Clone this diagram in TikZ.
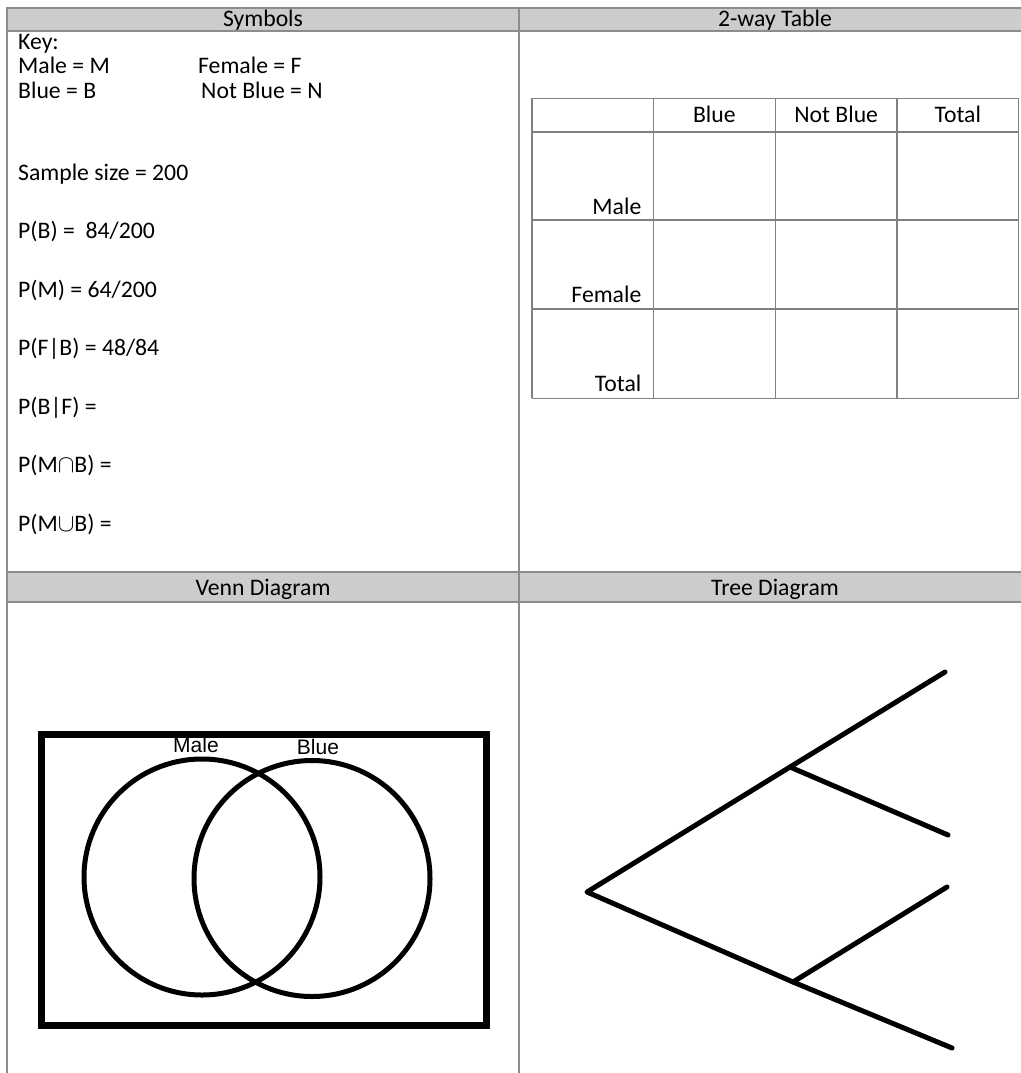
\documentclass[tikz,border=0pt]{standalone}
\usepackage{fontspec}
\setmainfont{Carlito}
\newfontfamily\arialf{Liberation Sans}
\begin{document}
\begin{tikzpicture}[x=1pt,y=-1pt,
  frameline/.style={draw=black!45, line width=2pt},
  band/.style={fill=black!20, draw=black!45, line width=2pt},
  tabline/.style={draw=black!50, line width=1.6pt},
  hdr/.style={font=\fontsize{23.7}{28}\selectfont, inner sep=0pt, anchor=base},
  txt/.style={font=\fontsize{23.7}{28}\selectfont, inner sep=0pt, anchor=base west},
  rlab/.style={font=\fontsize{23.7}{28}\selectfont, inner sep=0pt, anchor=base east},
  vlab/.style={font=\arialf\fontsize{21}{25}\selectfont, inner sep=0pt, anchor=base},
  thick line/.style={line width=5pt, line cap=round, line join=round}
]
\useasboundingbox (0,0) rectangle (1020,1073);
\fill[white] (0,0) rectangle (1020,1073);

% header bands
\path[band] (7,8) rectangle (1032,31);
\path[band] (7,572) rectangle (1032,602);
% frame lines
\draw[frameline] (7,8) -- (7,1073);
\draw[frameline] (519,8) -- (519,1073);

% headers
\node[hdr] (hsym) at (263,27) {Symbols};
\node[hdr] (htab) at (775,27) {2-way Table};
\node[hdr] (hven) at (263,595) {Venn Diagram};
\node[hdr] (htree) at (775,595) {Tree Diagram};

% symbols text
\node[txt] (key) at (18,49) {Key:};
\node[txt] (km) at (18,74) {Male = M};
\node[txt] (kf) at (198,74) {Female = F};
\node[txt] (kb) at (18,98) {Blue = B};
\node[txt] (kn) at (201,98) {Not Blue = N};
\node[txt] (ss) at (18,180) {Sample size = 200};
\node[txt] (pb) at (18,238.5) {P(B) =\ \ 84/200};
\node[txt] (pm) at (18,297) {P(M) = 64/200};
\node[txt] (pfb) at (18,355.5) {P(F|B) = 48/84};
\node[txt] (pbf) at (18,414) {P(B|F) =};
\node[txt] (pmb) at (18,472.5) {P(M$\cap$B) =};
\node[txt] (pub) at (18,531) {P(M$\cup$B) =};

% 2-way table
\foreach \x in {531.7,653.3,775.3,897,1018.5}
  \draw[tabline] (\x,98.3) -- (\x,398.3);
\foreach \y in {98.3,131.7,220,309,398.3}
  \draw[tabline] (531.7,\y) -- (1018.5,\y);
\node[hdr] (cb) at (714.3,122.6) {Blue};
\node[hdr] (cnb) at (836.2,122.6) {Not Blue};
\node[hdr] (ct) at (957.8,122.6) {Total};
\node[rlab] (rm) at (641.5,214) {Male};
\node[rlab] (rf) at (641.5,302.7) {Female};
\node[rlab] (rt) at (641.5,391.7) {Total};

% Venn diagram
\node[draw, line width=7pt, minimum width=444.7pt, minimum height=291.5pt, inner sep=0pt] (U) at (264.2,879.8) {};
\node[draw, circle, line width=5pt, minimum size=236pt, inner sep=0pt] (cM) at (202,877) {};
\node[draw, circle, line width=5pt, minimum size=236pt, inner sep=0pt] (cB) at (312,878.5) {};
\node[vlab] (lM) at (196,752.5) {Male};
\node[vlab] (lB) at (318,754) {Blue};

% Tree diagram
\coordinate (root) at (587,892);
\coordinate (nu) at (790,767);
\coordinate (nl) at (793,982);
\coordinate (uu) at (945,672);
\coordinate (ul) at (948,835);
\coordinate (lu) at (947,887);
\coordinate (ll) at (952,1048);
\draw[thick line] (uu) -- (nu) -- (root) -- (nl) -- (ll);
\draw[thick line] (nu) -- (ul);
\draw[thick line] (nl) -- (lu);
\end{tikzpicture}
\end{document}
